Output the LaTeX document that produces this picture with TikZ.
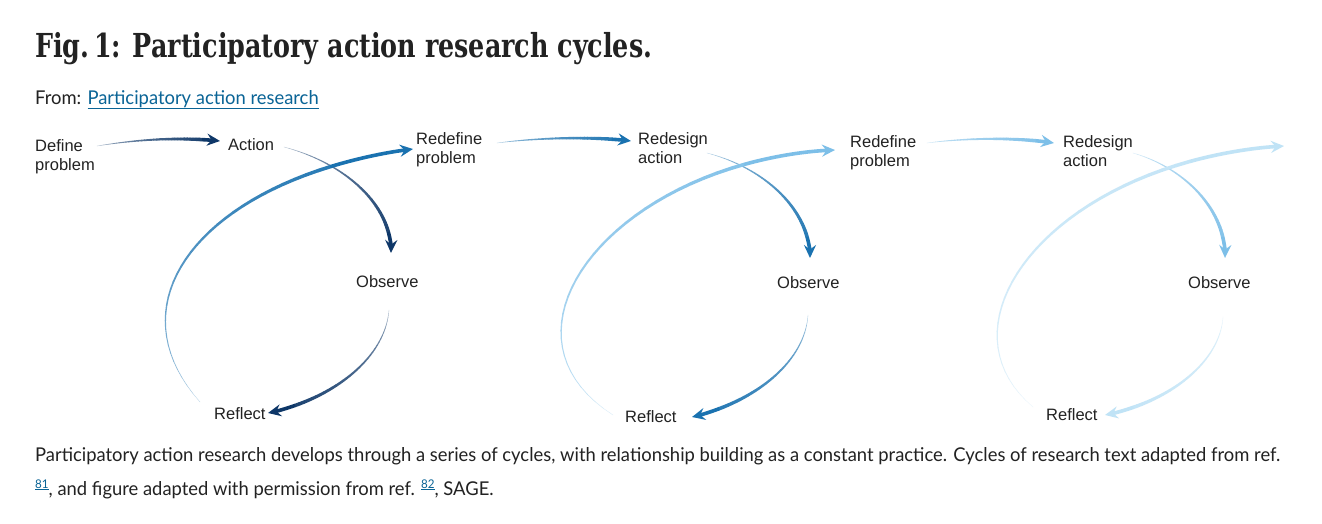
\documentclass[tikz,border=0pt]{standalone}
\usepackage{fontspec}
\usepackage{graphicx}
\setmainfont{Liberation Sans}
\newfontfamily\titlefont{DejaVu Serif Condensed}
\newfontfamily\capfont{Lato}
\usetikzlibrary{arrows.meta,calc}
\definecolor{navy}{HTML}{0E3768}
\definecolor{midblue}{HTML}{1A72B0}
\definecolor{lightblue}{HTML}{7DBFE8}
\definecolor{paleblue}{HTML}{C0E3F6}
\definecolor{linkblue}{HTML}{0A6496}
\definecolor{ink}{HTML}{222222}
\newcommand\twoline[2]{\vtop{\baselineskip=19pt\hbox{#1}\hbox{#2}}}
% tapered arrow along the cubic (#1)..(#2)..(#3)..(#4) in colour #5
\newcommand\taperarrow[5]{%
  \foreach \i in {0,...,34}{
    \pgfmathsetmacro\tapT{\i/40}
    \path (#1) .. controls (#2) and (#3) .. (#4) coordinate[pos=\tapT] (q\i);
  }
  \foreach \i in {0,...,33}{
    \pgfmathtruncatemacro\tapJ{\i+1}
    \pgfmathsetmacro\tapM{(\i+0.5)/40}
    \pgfmathsetmacro\tapW{0.3+3.9*(\tapM)^1.05}
    \pgfmathtruncatemacro\tapP{20+80*(\tapM)^0.45}
    \draw[line width=\tapW pt, line cap=round, #5!\tapP!white] (q\i) -- (q\tapJ);
  }
  % last part of the curve (t from 0.85 to 1) by de Casteljau
  \coordinate (qA) at ($(#2)!0.85!(#3)$);
  \coordinate (qB) at ($(#3)!0.85!(#4)$);
  \coordinate (qC) at ($(qA)!0.85!(qB)$);
  \draw[line width=3.6pt, #5, -{Stealth[length=13pt,width=12pt,inset=4.5pt]}]
    (q34) .. controls (qC) and (qB) .. (#4);
}
\newlength\capw
\newcommand\capline{Participatory action research develops through a series of cycles, with relationship building as a constant practice. Cycles of research text adapted from ref.}
\begin{document}
\settowidth{\capw}{\capfont\fontsize{19}{22}\selectfont\capline}%
\pgfmathsetmacro\capfac{1245/\capw}%
\begin{tikzpicture}[x=1pt,y=-1pt,
  lbl/.style={anchor=base west, inner sep=0pt, text=ink, font=\fontsize{16.5}{19}\selectfont}]
\fill[white] (0,0) rectangle (1322,523);
\useasboundingbox (0,0) rectangle (1322,523);

% title and source
\node[anchor=base west, inner sep=0pt, text=ink] (title) at (35,57)
  {\resizebox{617pt}{\height}{\titlefont\bfseries\fontsize{33}{38}\selectfont Fig.\,1: Participatory action research cycles.}};
\node[anchor=base west, inner sep=0pt, text=ink] (from) at (35,104)
  {\scalebox{\capfac}[1]{\capfont\fontsize{19}{22}\selectfont From: \textcolor{linkblue}{\underline{Participatory action research}}}};

% labels
\node[lbl] (define) at (35,151) {\twoline{Define}{problem}};
\node[lbl] (action) at (228,150) {Action};
\node[lbl] (redefA) at (416,144) {\twoline{Redefine}{problem}};
\node[lbl] (redesA) at (638,144) {\twoline{Redesign}{action}};
\node[lbl] (redefB) at (850,147) {\twoline{Redefine}{problem}};
\node[lbl] (redesB) at (1063,147) {\twoline{Redesign}{action}};
\node[lbl] (obsA) at (356,287) {Observe};
\node[lbl] (obsB) at (777,288) {Observe};
\node[lbl] (obsC) at (1188,288) {Observe};
\node[lbl] (refA) at (214,419) {Reflect};
\node[lbl] (refB) at (625,422) {Reflect};
\node[lbl] (refC) at (1046,420) {Reflect};

% cycle 1 geometry
\coordinate (a1s) at (97,146);  \coordinate (a1p) at (140,139); \coordinate (a1q) at (180,137); \coordinate (a1e) at (220,141);
\coordinate (a2s) at (284,147); \coordinate (a2p) at (345,163); \coordinate (a2q) at (392,205); \coordinate (a2e) at (391,253);
\coordinate (a3s) at (389,310); \coordinate (a3p) at (385,360); \coordinate (a3q) at (330,400); \coordinate (a3e) at (268,413);
\coordinate (a4s) at (200,402); \coordinate (a4p) at (105,295); \coordinate (a4q) at (215,175); \coordinate (a4e) at (413,149);
% cycle 2 geometry
\coordinate (b1s) at (497,143); \coordinate (b1p) at (535,138); \coordinate (b1q) at (590,136); \coordinate (b1e) at (631,141);
\coordinate (b2s) at (707,153); \coordinate (b2p) at (765,168); \coordinate (b2q) at (810,210); \coordinate (b2e) at (810,258);
\coordinate (b3s) at (808,315); \coordinate (b3p) at (805,362); \coordinate (b3q) at (755,402); \coordinate (b3e) at (692,417);
\coordinate (b4s) at (613,415); \coordinate (b4p) at (480,330); \coordinate (b4q) at (620,160); \coordinate (b4e) at (835,150);
% cycle 3 geometry
\coordinate (c1s) at (927,143); \coordinate (c1p) at (965,138); \coordinate (c1q) at (1015,137); \coordinate (c1e) at (1054,143);
\coordinate (c2s) at (1133,153); \coordinate (c2p) at (1185,168); \coordinate (c2q) at (1226,210); \coordinate (c2e) at (1225,258);
\coordinate (c3s) at (1223,317); \coordinate (c3p) at (1220,362); \coordinate (c3q) at (1170,402); \coordinate (c3e) at (1105,415);
\coordinate (c4s) at (1033,407); \coordinate (c4p) at (930,320); \coordinate (c4q) at (1060,160); \coordinate (c4e) at (1284,146);

% arrows
\taperarrow{a1s}{a1p}{a1q}{a1e}{navy}
\taperarrow{a2s}{a2p}{a2q}{a2e}{navy}
\taperarrow{a3s}{a3p}{a3q}{a3e}{navy}
\taperarrow{a4s}{a4p}{a4q}{a4e}{midblue}
\taperarrow{b1s}{b1p}{b1q}{b1e}{midblue}
\taperarrow{b2s}{b2p}{b2q}{b2e}{midblue}
\taperarrow{b3s}{b3p}{b3q}{b3e}{midblue}
\taperarrow{b4s}{b4p}{b4q}{b4e}{lightblue}
\taperarrow{c1s}{c1p}{c1q}{c1e}{lightblue}
\taperarrow{c2s}{c2p}{c2q}{c2e}{lightblue}
\taperarrow{c3s}{c3p}{c3q}{c3e}{paleblue}
\taperarrow{c4s}{c4p}{c4q}{c4e}{paleblue}

% caption
\node[anchor=base west, inner sep=0pt, text=ink] (capA) at (35,461)
  {\scalebox{\capfac}[1]{\capfont\fontsize{19}{22}\selectfont\capline}};
\node[anchor=base west, inner sep=0pt, text=ink] (capB) at (35,495)
  {\scalebox{\capfac}[1]{\capfont\fontsize{19}{22}\selectfont \raisebox{7pt}{\fontsize{12}{13}\selectfont\textcolor{linkblue}{\underline{81}}}, and figure adapted with permission from ref. \raisebox{7pt}{\fontsize{12}{13}\selectfont\textcolor{linkblue}{\underline{82}}}, SAGE.}};
\end{tikzpicture}
\end{document}
